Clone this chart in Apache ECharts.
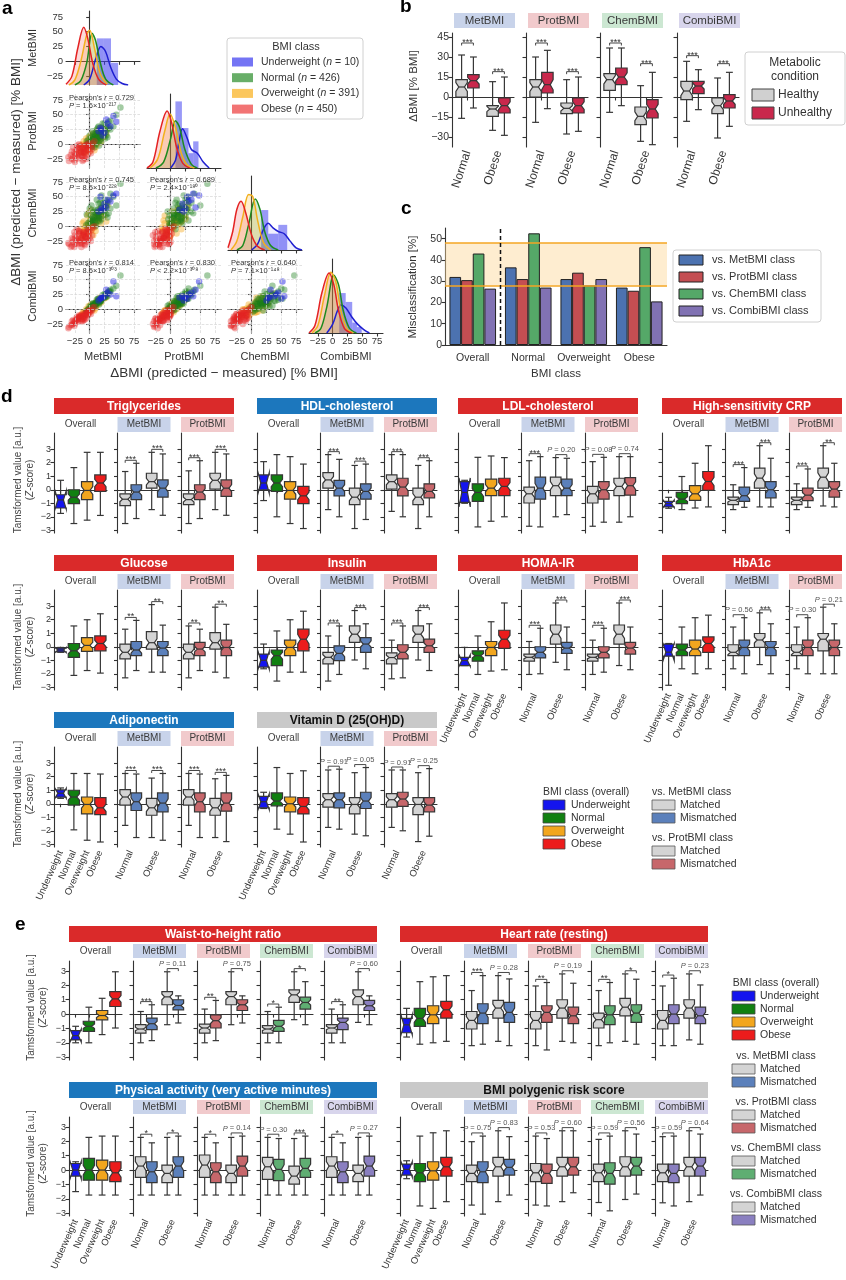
<!DOCTYPE html>
<html><head><meta charset="utf-8">
<script src="https://cdn.jsdelivr.net/npm/echarts@6/dist/echarts.min.js"></script>
<style>html,body{margin:0;padding:0;background:#fff}#c{width:846px;height:1280px}</style>
</head><body><div id="c"></div><script>
// ================= DATA =================
const METHODS = ['MetBMI','ProtBMI','ChemBMI','CombiBMI'];
const BMI_CLASSES = ['Underweight','Normal','Overweight','Obese'];
const PAIR_CATS = ['Normal','Obese'];
const CLASS_N = [10, 426, 391, 450];
const A_TICKS = [-25,0,25,50,75];
const Z_TICKS = [-3,-2,-1,0,1,2,3];

// Panel a: individuals [MetBMI, ProtBMI, ChemBMI, CombiBMI] (ΔBMI %)
const SCAT_UNDER = [[40,48,52,47],[45,38,55,22],[20,25,30,20],[30,35,45,28],[15,22,25,15],[25,20,38,22],[35,30,42,25],[18,28,50,18],[28,42,32,33],[22,15,28,20]];
const SCAT_NORMAL = [[12,12,18,10],[5,8,10,5],[18,15,25,14],[25,22,30,20],[8,3,15,7],[15,20,22,14],[0,2,8,0],[20,18,12,16],[10,14,28,11],[28,30,35,25],[3,-2,5,2],[14,10,20,12],[22,25,18,19],[6,12,24,8],[16,6,14,11],[30,25,40,27],[9,16,10,9],[-3,2,5,-2],[19,22,32,17],[11,5,22,10],[24,15,28,21],[7,9,2,6],[13,18,15,12],[33,28,45,30],[17,12,8,13],[2,6,18,4],[21,28,24,20],[27,20,35,25],[4,-4,12,1],[15,15,38,15],[52,62,72,57],[35,40,55,33],[-6,-2,2,-4],[10,20,5,10],
 [20,5,30,14],[5,22,15,10],[28,15,20,22],[0,15,30,5],[15,30,10,18],[35,25,30,30],[8,-5,25,6],[22,35,40,24],[-2,8,-5,0],[12,25,45,16],[30,12,15,22],[18,8,40,14],[3,12,35,6],[25,35,25,26],[10,0,0,5],[40,30,50,35],[14,28,28,18],[26,10,45,20],[6,18,8,10],[20,22,52,18],[45,50,35,40],[-5,5,20,-2],[32,38,22,30],[16,-2,18,8]];
const SCAT_OVER = [[0,2,-5,0],[5,6,8,4],[-8,-5,-10,-6],[10,8,12,9],[-3,0,2,-2],[15,12,10,12],[2,-4,-8,-1],[-12,-8,-15,-10],[7,10,5,7],[20,15,22,17],[-5,3,0,-3],[3,1,15,5],[12,18,8,12],[-15,-12,-5,-11],[8,4,-2,5],[-2,-8,-12,-6],[25,22,18,22],[1,7,5,3],[-7,-2,-18,-8],[18,10,25,15],[4,14,3,6],[-10,-14,-8,-10],[14,5,12,9],[6,-1,2,3],[30,28,35,27],[-4,5,-3,-1],[9,12,20,10],[-1,-3,6,0],[22,25,15,20],[11,0,4,6],
 [-6,10,-12,0],[8,-10,5,-2],[16,2,25,10],[-10,5,8,-5],[4,18,-5,8],[20,5,5,12],[-14,-2,-20,-10],[0,-12,10,-4],[12,22,18,14],[-2,12,22,5],[24,12,30,18],[-8,-15,-2,-8],[6,0,-15,0],[15,25,12,16],[-12,0,5,-6],[10,-5,-8,2],[28,18,8,20],[-4,-10,18,-2],[2,15,28,8],[18,28,30,20]];
const SCAT_OBESE = [[-20,-18,-25,-17],[-15,-12,-20,-13],[-10,-8,-14,-9],[-5,-3,-10,-5],[-25,-20,-30,-22],[-30,-25,-33,-26],[-8,-12,-18,-10],[-12,-5,-15,-8],[-18,-15,-12,-14],[-3,-6,-8,-4],[0,-2,-5,-1],[5,2,-2,3],[-22,-12,-28,-18],[-14,-18,-22,-16],[-6,-10,-20,-9],[-28,-22,-26,-24],[-16,-8,-10,-11],[-9,-15,-25,-14],[-2,2,-12,-2],[-11,-11,-16,-12],[-20,-24,-22,-21],[-35,-28,-30,-30],[3,-5,-6,-1],[-7,-1,-17,-6],[-13,-20,-30,-17],[-24,-16,-20,-19],[-4,-9,-4,-5],[8,5,0,4],[-17,-6,-23,-12],[-10,-14,-9,-10],[-26,-27,-35,-28],[-1,-4,-14,-5],
 [-20,-5,-30,-15],[-10,-22,-12,-18],[-30,-12,-20,-20],[2,-15,-25,-8],[-18,0,-8,-10],[-25,-30,-15,-25],[-8,-20,-32,-17],[-15,-2,-28,-12],[-32,-18,-35,-27],[-6,-25,-18,-15],[-22,-8,-5,-14],[0,-12,-20,-6],[-12,-28,-25,-20],[-28,-5,-22,-18],[-4,0,-26,-8],[-19,-22,-8,-16],[-14,-14,-35,-20],[4,-8,-15,-2],[-26,-14,-10,-20],[-9,-3,-30,-12],[-36,-22,-28,-32],[-11,-26,-10,-16],[-3,-17,-22,-10],[-21,-2,-18,-13]];
// Pearson stats: [row, col, r, relation, mantissa, exponent]
const A_STATS = [[1,0,'0.729','=','1.6','217'],[2,0,'0.745','=','8.5','228'],[2,1,'0.689','=','2.4','180'],[3,0,'0.814','=','8.5','303'],[3,1,'0.830','<','2.2','308'],[3,2,'0.640','=','7.1','148']];
// KDE curves per diagonal [x, relative density]; order Under, Normal, Over, Obese
const KDE_MET = [
 [[-10,0],[0,0.08],[10,0.35],[19,0.52],[27,0.45],[35,0.25],[45,0.08],[55,0.02],[65,0]],
 [[-25,0],[-15,0.06],[-5,0.3],[4,0.7],[10,0.6],[18,0.3],[27,0.08],[40,0]],
 [[-35,0],[-25,0.07],[-15,0.32],[-5,0.68],[0,0.74],[8,0.5],[18,0.15],[30,0.01]],
 [[-40,0.01],[-30,0.12],[-20,0.5],[-10,0.78],[-3,0.62],[5,0.3],[15,0.08],[28,0]]];
const KDE_PROT = [
 [[0,0],[8,0.1],[14,0.35],[20,0.53],[28,0.4],[35,0.25],[45,0.2],[55,0.08],[65,0]],
 [[-25,0],[-12,0.08],[0,0.4],[8,0.64],[15,0.55],[24,0.25],[35,0.05],[45,0]],
 [[-35,0],[-22,0.12],[-10,0.5],[-1,0.73],[8,0.55],[18,0.2],[28,0.04],[40,0]],
 [[-40,0],[-30,0.08],[-18,0.5],[-6,0.77],[2,0.6],[10,0.28],[20,0.07],[32,0]]];
const KDE_CHEM = [
 [[0,0],[10,0.08],[20,0.28],[28,0.36],[36,0.3],[45,0.25],[55,0.22],[65,0.12],[75,0.03],[85,0]],
 [[-25,0],[-15,0.06],[-5,0.35],[6,0.69],[14,0.55],[22,0.25],[32,0.06],[45,0]],
 [[-35,0],[-25,0.12],[-15,0.45],[-5,0.75],[2,0.72],[10,0.4],[20,0.1],[32,0]],
 [[-40,0.03],[-32,0.25],[-25,0.55],[-18,0.66],[-10,0.5],[0,0.2],[10,0.05],[22,0]]];
const KDE_COMBI = [
 [[-10,0],[0,0.12],[8,0.3],[14,0.38],[22,0.34],[32,0.22],[42,0.12],[52,0.05],[62,0]],
 [[-30,0],[-20,0.06],[-10,0.35],[2,0.78],[10,0.65],[18,0.3],[28,0.07],[40,0]],
 [[-35,0],[-25,0.1],[-14,0.5],[-3,0.82],[5,0.7],[14,0.3],[24,0.06],[35,0]],
 [[-40,0],[-30,0.1],[-18,0.55],[-6,0.81],[2,0.65],[10,0.3],[20,0.06],[32,0]]];
// Underweight histogram bins [x0, x1, relative height]
const HIST_MET = [[12,24,0.63],[24,36,0.63],[36,48,0.3]];
const HIST_PROT = [[8,19,0.9],[19,30,0.54],[30,38,0.2],[38,47,0.36]];
const HIST_CHEM = [[16,28,0.54],[28,45,0.22],[45,60,0.34]];
const HIST_COMBI = [[11,22,0.54],[22,33,0.42],[33,41,0.14],[41,49,0.08]];

// Panel b: boxes [min,q1,median,q3,max]; order Normal-Healthy, Normal-Unhealthy, Obese-Healthy, Obese-Unhealthy
const B_MET = [[-16,0,7.5,13,31.5],[-8.25,6.75,12.25,16.75,30],[-25,-14.5,-9,-6.5,11.5],[-28.75,-12,-6.5,-0.75,15]];
const B_PROT = [[-19,0,7.5,13,30],[-8.75,3,9.25,18.5,35],[-27.75,-12.5,-8.5,-4.5,13],[-25.75,-12,-6.5,-0.75,15]];
const B_CHEM = [[-11.5,5,13,17.5,36.75],[-6.5,9.25,15,21.75,36.75],[-33.25,-20.75,-14.5,-7.5,8.5],[-35.75,-15.75,-9,-2,18.5]];
const B_COMBI = [[-18.25,-2,4.5,11.75,26.75],[-9.5,2.5,8.25,11.75,20.5],[-30.75,-12.5,-6.5,-0.75,14.25],[-22,-8.25,-3,1.75,18.5]];
const B_SIG = ['***','***'];
const B_SIG_Y = [[40.5,19],[40.5,19],[40.5,25],[31,25]];

// Panel c
const C_CATS = ['Overall','Normal','Overweight','Obese'];
const C_MET = [32, 36.5, 31, 27];
const C_PROT = [30.5, 31, 34, 25.5];
const C_CHEM = [43, 52.5, 28, 46];
const C_COMBI = [26.5, 27, 31, 20.5];
const C_BAND = [28, 48];

// Panel d: overall boxes (Under, Normal, Over, Obese); comparison boxes (Normal-Matched, Normal-Mismatched, Obese-Matched, Obese-Mismatched)
const TRIG_OV = [[-1.75,-1.35,-0.75,-0.37,0.7],[-2.5,-1.03,-0.55,0,1.64],[-2.25,-0.73,-0.05,0.6,2.77],[-1.9,-0.12,0.5,1.1,2.77]];
const TRIG_MET = [[-2.5,-1.18,-0.7,-0.3,1.35],[-2.13,-0.73,-0.17,0.37,1.96],[-1.47,0.12,0.6,1.22,2.77],[-1.89,-0.54,0.12,0.73,2.65]];
const TRIG_PROT = [[-2.5,-1.1,-0.73,-0.3,1.4],[-2.13,-0.73,-0.17,0.37,2.15],[-1.47,0.05,0.7,1.22,2.77],[-1.89,-0.49,0.12,0.73,2.65]];
const TRIG_SIG = [['***','***'],['***','***']];
const HDL_OV = [[-0.8,0,0.5,1.1,2.08],[-2.0,-0.12,0.5,1.1,2.6],[-2.5,-0.7,-0.05,0.6,2.45],[-2.87,-1.03,-0.45,0.25,1.9]];
const HDL_MET = [[-1.47,0.12,0.73,1.27,2.6],[-2.0,-0.45,0.12,0.7,2.25],[-2.87,-1.1,-0.55,0.12,1.8],[-2.2,-0.7,-0.12,0.44,1.9]];
const HDL_PROT = [[-1.6,0.05,0.6,1.1,2.6],[-2.0,-0.45,0.2,0.85,2.6],[-2.87,-1.1,-0.55,0.12,1.8],[-2.0,-0.6,-0.12,0.44,2.15]];
const HDL_SIG = [['***','***'],['***','***']];
const LDL_OV = [[-1.0,-0.93,-0.2,0.6,0.7],[-2.75,-0.86,-0.2,0.44,2.4],[-2.33,-0.44,0.12,0.78,2.5],[-2.0,-0.44,0.25,0.85,2.38]];
const LDL_MET = [[-2.7,-0.98,-0.3,0.2,2.15],[-2.75,-0.7,0.12,0.93,2.45],[-2.0,-0.44,0.3,0.93,2.38],[-1.84,-0.44,0.12,0.78,2.33]];
const LDL_PROT = [[-2.7,-0.98,-0.3,0.25,2.08],[-2.4,-0.7,0,0.6,2.4],[-2.4,-0.44,0.25,0.85,2.45],[-2.0,-0.4,0.3,0.9,2.45]];
const LDL_SIG = [['***','P = 0.20'],['P = 0.08','P = 0.74']];
const CRP_OV = [[-1.37,-1.27,-1.03,-0.86,-0.56],[-1.47,-1.03,-0.69,-0.2,0.98],[-1.35,-0.78,-0.3,0.3,1.96],[-1.27,-0.05,0.61,1.35,3.26]];
const CRP_MET = [[-1.47,-1.1,-0.78,-0.54,0.37],[-1.3,-0.86,-0.44,0.2,1.64],[-1.27,0.12,0.86,1.6,3.26],[-1.27,-0.6,0,0.6,2.33]];
const CRP_PROT = [[-1.47,-1.1,-0.78,-0.54,0.44],[-1.3,-0.8,-0.4,0.12,1.54],[-1.2,0.12,0.93,1.6,3.26],[-1.27,-0.54,0.05,0.6,1.96]];
const CRP_SIG = [['***','***'],['***','**']];
const GLU_OV = [[-0.41,-0.38,-0.24,-0.1,-0.05],[-2.12,-0.78,-0.3,0.24,1.54],[-1.76,-0.34,0.1,0.68,2.0],[-1.95,-0.3,0.24,0.8,2.44]];
const GLU_MET = [[-2.3,-0.9,-0.41,0.2,1.3],[-1.76,-0.66,-0.24,0.39,1.95],[-1.88,-0.17,0.3,1.12,3.12],[-1.88,-0.66,-0.1,0.39,1.6]];
const GLU_PROT = [[-2.3,-0.9,-0.41,0.2,1.54],[-1.76,-0.66,-0.17,0.32,1.3],[-1.88,-0.17,0.3,1.05,2.93],[-2.3,-0.66,-0.05,0.49,1.66]];
const GLU_SIG = [['**','**'],['**','**']];
const INS_OV = [[-1.63,-1.5,-1.0,-0.54,0.2],[-2.54,-1.39,-0.66,-0.24,1.17],[-1.88,-0.66,-0.05,0.49,2.0],[-1.88,-0.3,0.56,1.3,2.63]];
const INS_MET = [[-2.54,-1.27,-0.78,-0.41,0.8],[-2.05,-1.02,-0.49,0.07,1.54],[-0.98,0.32,0.93,1.54,2.68],[-1.63,-0.41,0.2,0.68,1.7]];
const INS_PROT = [[-2.37,-1.27,-0.8,-0.45,0.49],[-2.3,-0.9,-0.41,0.15,1.54],[-0.98,0.32,0.93,1.54,2.68],[-1.76,-0.41,0.07,0.56,1.7]];
const INS_SIG = [['***','***'],['***','***']];
const HOMA_OV = [[-1.39,-1.39,-1.02,-0.78,-0.05],[-2.05,-1.07,-0.66,-0.3,0.8],[-1.8,-0.66,-0.05,0.39,1.85],[-1.7,-0.12,0.56,1.22,3.24]];
const HOMA_MET = [[-2.05,-1.07,-0.78,-0.54,0.39],[-2.0,-0.83,-0.41,0,1.37],[-1.15,0.2,0.93,1.61,3.24],[-1.7,-0.49,-0.1,0.32,1.46]];
const HOMA_PROT = [[-2.05,-1.07,-0.78,-0.54,0.49],[-1.88,-0.83,-0.41,0,1.37],[-1.39,0.2,0.93,1.61,3.24],[-1.7,-0.54,-0.1,0.32,1.46]];
const HOMA_SIG = [['***','***'],['***','***']];
const HBA_OV = [[-2.85,-0.7,-0.4,0.2,0.24],[-1.63,-0.66,-0.24,0.2,1.46],[-2.0,-0.66,-0.17,0.49,2.15],[-1.63,-0.41,0.24,0.73,2.34]];
const HBA_MET = [[-1.63,-0.66,-0.41,0.15,1.46],[-2.0,-0.66,-0.05,0.49,2.15],[-1.32,-0.05,0.5,0.98,2.51],[-2.0,-0.66,-0.05,0.39,1.7]];
const HBA_PROT = [[-1.63,-0.66,-0.41,0.15,1.46],[-2.0,-0.66,-0.05,0.49,2.15],[-2.0,-0.3,0.56,0.98,2.93],[-2.0,-0.66,-0.05,0.49,1.7]];
const HBA_SIG = [['P = 0.56','***'],['P = 0.30','P = 0.21']];
const ADIPO_OV = [[0.4,0.49,0.78,1.02,1.17],[-1.93,-0.1,0.5,1.0,2.24],[-2.7,-0.75,-0.05,0.5,2.24],[-2.83,-0.8,-0.3,0.45,2.2]];
const ADIPO_MET = [[-1.6,-0.1,0.5,1.05,2.24],[-2.5,-0.5,0.15,0.8,2.2],[-2.5,-0.85,-0.3,0.4,1.9],[-2.7,-0.6,0.05,0.8,2.24]];
const ADIPO_PROT = [[-1.6,-0.1,0.5,1.05,2.24],[-2.5,-0.6,0.15,0.8,2.2],[-2.5,-0.85,-0.3,0.4,1.85],[-2.8,-0.55,0.05,0.8,2.1]];
const ADIPO_SIG = [['***','***'],['***','***']];
const VITD_OV = [[-0.35,-0.3,0.15,0.55,0.85],[-1.88,-0.15,0.2,0.8,2.68],[-2.25,-0.6,0,0.5,2.24],[-2.83,-0.75,-0.2,0.45,2.44]];
const VITD_MET = [[-1.75,-0.25,0.3,0.75,2.5],[-1.88,-0.3,0.3,0.8,2.56],[-2.25,-0.75,-0.05,0.45,2.3],[-2.37,-0.35,0.2,0.85,2.68]];
const VITD_PROT = [[-1.75,-0.25,0.3,0.75,2.5],[-2.0,-0.2,0.35,0.85,2.5],[-2.8,-0.8,-0.05,0.45,2.3],[-2.4,-0.6,-0.1,0.45,2.6]];
const VITD_SIG = [['P = 0.91','P = 0.05'],['P = 0.91','P = 0.25']];

// Panel e
const WHTR_OV = [[-2.0,-1.8,-1.5,-1.15,-0.85],[-2.0,-1.2,-0.85,-0.5,0.48],[-1.43,-0.4,-0.1,0.25,1.1],[-0.97,0.53,1.06,1.57,2.95]];
const WHTR_MET = [[-2.0,-1.32,-1.04,-0.74,0.18],[-1.85,-1.08,-0.67,-0.28,0.65],[-0.74,0.65,1.2,1.57,2.95],[-0.62,0.3,0.6,1.0,1.27]];
const WHTR_PROT = [[-2.0,-1.32,-0.97,-0.7,0.35],[-1.85,-0.97,-0.46,-0.05,0.95],[-0.74,0.65,1.22,1.57,2.95],[-0.62,0.25,0.65,1.0,1.27]];
const WHTR_CHEM = [[-2.0,-1.32,-1.04,-0.8,0.18],[-2.0,-1.2,-0.85,-0.44,0.48],[-0.39,0.81,1.34,1.69,2.95],[-0.74,0.35,0.81,1.18,2.26]];
const WHTR_COMBI = [[-2.0,-1.32,-0.97,-0.74,0.35],[-2.0,-1.08,-0.58,-0.28,0.65],[-0.58,0.65,1.22,1.69,2.95],[-0.74,0.25,0.58,0.95,1.27]];
const WHTR_SIG = [['***','P = 0.11'],['**','P = 0.75'],['*','*'],['**','P = 0.60']];
const HR_OV = [[-1.6,-1.3,-0.75,-0.3,0.4],[-2.1,-0.85,-0.3,0.4,2.26],[-2.0,-0.67,-0.05,0.58,2.6],[-1.9,-0.28,0.3,0.88,2.68]];
const HR_MET = [[-2.2,-1.04,-0.44,0.18,1.64],[-2.1,-0.67,0.07,0.72,2.68],[-1.9,-0.28,0.42,0.95,2.68],[-2.2,-0.58,0.12,0.81,2.45]];
const HR_PROT = [[-2.2,-1.04,-0.44,0.18,1.96],[-2.5,-0.58,0.12,0.58,2.2],[-1.9,-0.28,0.42,1.0,2.8],[-2.0,-0.67,-0.12,0.48,2.15]];
const HR_CHEM = [[-2.2,-0.97,-0.39,0.07,1.64],[-2.0,-0.74,-0.05,0.58,2.2],[-1.9,-0.12,0.48,1.1,2.8],[-2.1,-0.58,0.07,0.65,2.43]];
const HR_COMBI = [[-2.2,-1.04,-0.44,0.25,1.96],[-2.2,-0.67,0,0.65,2.5],[-1.8,-0.28,0.42,1.0,2.8],[-2.1,-0.67,-0.12,0.48,2.03]];
const HR_SIG = [['***','P = 0.28'],['**','P = 0.19'],['**','*'],['*','P = 0.23']];
const PA_OV = [[-1.5,-0.42,0,0.46,0.58],[-1.74,-0.7,0,0.81,2.28],[-1.74,-0.7,0,0.7,2.37],[-1.74,-0.81,-0.19,0.58,2.37]];
const PA_MET = [[-1.74,-0.51,0.28,0.93,2.28],[-1.74,-0.88,-0.12,0.58,1.9],[-1.74,-0.88,-0.23,0.35,2.28],[-1.74,-0.51,0.28,0.93,2.37]];
const PA_PROT = [[-1.74,-0.51,0.35,1.05,2.28],[-1.74,-0.88,-0.12,0.51,1.9],[-1.74,-0.88,-0.23,0.35,2.28],[-1.74,-0.42,0.28,0.98,2.37]];
const PA_CHEM = [[-1.74,-0.65,0.23,0.88,2.28],[-1.74,-0.74,0.05,0.74,2.2],[-1.74,-0.98,-0.42,0.28,2.2],[-1.74,-0.51,0.12,0.81,2.37]];
const PA_COMBI = [[-1.74,-0.51,0.28,0.93,2.28],[-1.74,-0.88,-0.12,0.58,1.9],[-1.74,-0.81,-0.23,0.35,2.28],[-1.74,-0.42,0.28,0.98,2.37]];
const PA_SIG = [['*','*'],['*','P = 0.14'],['P = 0.30','***'],['*','P = 0.27']];
const PRS_OV = [[-0.6,-0.35,0.05,0.42,0.65],[-2.5,-0.81,-0.19,0.46,2.37],[-2.67,-0.7,-0.05,0.58,2.6],[-2.2,-0.42,0.23,0.88,2.74]];
const PRS_MET = [[-2.44,-0.81,-0.23,0.35,1.98],[-3.07,-0.88,-0.12,0.58,2.37],[-2.2,-0.42,0.23,0.88,2.74],[-1.74,-0.35,0.19,0.74,2.33]];
const PRS_PROT = [[-2.44,-0.81,-0.19,0.46,2.37],[-2.5,-0.93,-0.23,0.42,2.2],[-2.2,-0.42,0.23,0.88,2.74],[-1.58,-0.35,0.23,0.88,2.74]];
const PRS_CHEM = [[-2.26,-0.81,-0.19,0.42,2.14],[-2.84,-0.98,-0.23,0.51,2.37],[-2.05,-0.42,0.23,0.93,2.74],[-1.67,-0.35,0.28,0.88,2.51]];
const PRS_COMBI = [[-2.28,-0.81,-0.19,0.42,2.33],[-2.5,-0.88,-0.23,0.42,2.37],[-2.2,-0.42,0.23,0.88,2.74],[-1.74,-0.42,0.28,0.88,2.51]];
const PRS_SIG = [['P = 0.75','P = 0.83'],['P = 0.53','P = 0.60'],['P = 0.59','P = 0.56'],['P = 0.59','P = 0.64']];

// ================= STYLE =================
const FONT = '"Liberation Sans", Arial, Helvetica, sans-serif';
const TXT = '#333';
const AX = '#333';
const CLASS_COLORS = ['#1414ee','#118011','#f2a61e','#ec1c1c'];
const MATCH_COLOR = '#d4d4d4';
const MISMATCH_COLORS = {MetBMI:'#5b80bb', ProtBMI:'#c7676b', ChemBMI:'#5fae72', CombiBMI:'#8a7fc0'};
const HEADER_BG = {MetBMI:'#c8d3ea', ProtBMI:'#f1cacc', ChemBMI:'#cce7d2', CombiBMI:'#d8d5ec'};
const BAR_COLORS = {red:'#da2a2a', blue:'#1c77bd', gray:'#c9c9c9'};
const C_COLORS = ['#4c72b0','#c44e52','#55a868','#8172b3'];
const NOTCH = 0.22, NOTCH_UNDER = 0.7;

const grids=[], xAxes=[], yAxes=[], series=[], graphics=[];
const MINUS = v => String(v).replace('-', '\u2212');
function addGrid(l,t,w,h){ grids.push({left:l, top:t, width:w, height:h}); return grids.length-1; }
function T(x,y,text,o){ o=o||{}; const st = Object.assign({text, fill:TXT, fontSize:11, fontFamily:FONT, align:'left', verticalAlign:'middle'}, o.style||{});
  st.textAlign = st.align; st.textVerticalAlign = st.verticalAlign;
  graphics.push({type:'text', x, y, rotation:o.rot||0, silent:true, z:100, style:st}); }
function R(x,y,w,h,fill,stroke,lw,r){ graphics.push({type:'rect', silent:true, z:90, shape:{x,y,width:w,height:h,r:r||0}, style:{fill, stroke:stroke||null, lineWidth:lw||0}}); }
function valAxis(gi,min,max,ticks,showLab,fs,extra){
  return Object.assign({type:'value', gridIndex:gi, min, max,
    axisLine:{show:true, lineStyle:{color:AX, width:1.1}},
    axisTick:{show:true, customValues:ticks, length:3.5, lineStyle:{color:AX, width:1.1}},
    axisLabel:{show:showLab, customValues:ticks, formatter:MINUS, color:TXT, fontSize:fs, margin:3, fontFamily:FONT},
    splitLine:{show:false}}, extra||{});
}
function catAxis(gi,data,showLab,fs,rot,tick){
  return {type:'category', gridIndex:gi, data, boundaryGap:true,
    axisLine:{show:true, lineStyle:{color:AX, width:1.1}},
    axisTick:{show:tick!==false, alignWithLabel:true, length:3.5, lineStyle:{color:AX, width:1.1}},
    axisLabel:{show:showLab, interval:0, rotate:rot, fontSize:fs, color:TXT, margin:4, fontFamily:FONT}};
}
function boxSeries(xi,yi,data,pos,wf,colorFn,notchFn){
  return {type:'custom', xAxisIndex:xi, yAxisIndex:yi, data, silent:true, z:3, encode:{x:0, y:[1,2,3,4,5]},
    renderItem:(params, api)=>{
      const c = api.value(0);
      const v = [api.value(1),api.value(2),api.value(3),api.value(4),api.value(5)];
      const w = api.size([1,0])[0];
      const cx = api.coord([c, v[2]])[0] + pos*w;
      const bw = wf*w;
      const Y = val => api.coord([c,val])[1];
      const L = cx-bw/2, Rr = cx+bw/2, ind = bw*0.25;
      const n = notchFn(params.dataIndex)*(v[3]-v[1]);
      const pts = [[L,Y(v[1])],[Rr,Y(v[1])],[Rr,Y(v[2]-n)],[Rr-ind,Y(v[2])],[Rr,Y(v[2]+n)],[Rr,Y(v[3])],[L,Y(v[3])],[L,Y(v[2]+n)],[L+ind,Y(v[2])],[L,Y(v[2]-n)]];
      const cap = bw*0.3;
      const ls = {stroke:'#363636', lineWidth:1.2};
      return {type:'group', children:[
        {type:'line', shape:{x1:cx,y1:Y(v[3]),x2:cx,y2:Y(v[4])}, style:ls},
        {type:'line', shape:{x1:cx,y1:Y(v[1]),x2:cx,y2:Y(v[0])}, style:ls},
        {type:'line', shape:{x1:cx-cap,y1:Y(v[4]),x2:cx+cap,y2:Y(v[4])}, style:ls},
        {type:'line', shape:{x1:cx-cap,y1:Y(v[0]),x2:cx+cap,y2:Y(v[0])}, style:ls},
        {type:'polygon', shape:{points:pts}, style:{fill:colorFn(params.dataIndex), stroke:'#363636', lineWidth:1.2}},
        {type:'line', shape:{x1:L+ind,y1:Y(v[2]),x2:Rr-ind,y2:Y(v[2])}, style:ls}
      ]};
    }};
}
function sigSeries(xi,yi,data,labels,pos){
  return {type:'custom', xAxisIndex:xi, yAxisIndex:yi, data, silent:true, z:5, encode:{x:0, y:1},
    renderItem:(params, api)=>{
      const c = api.value(0), yv = api.value(1);
      const w = api.size([1,0])[0];
      const p = api.coord([c,yv]);
      const x1 = p[0]-pos*w, x2 = p[0]+pos*w, y = p[1];
      const lab = labels[params.dataIndex];
      const isP = lab.charAt(0)==='P';
      const st = isP ? {text:'{i|P}'+lab.slice(1), rich:{i:{fontStyle:'italic', fontSize:7.5, fill:'#555', fontFamily:FONT}}, fontSize:7.5, fill:'#555', fontFamily:FONT}
                     : {text:lab, fontSize:9, fill:'#333', fontFamily:FONT};
      st.align='center'; st.verticalAlign='bottom'; st.textAlign='center'; st.textVerticalAlign='bottom';
      return {type:'group', children:[
        {type:'polyline', shape:{points:[[x1,y+2.5],[x1,y],[x2,y],[x2,y+2.5]]}, style:{stroke:'#333', lineWidth:0.9, fill:null}},
        {type:'text', x:p[0], y: isP ? y-0.5 : y+4, style:st}
      ]};
    }};
}

// ================= PANEL A =================
const A_LEFT=[66,147,228,309], A_TOP=[11,94,176,259], A_SIZE=74;
const SCAT = [SCAT_UNDER, SCAT_NORMAL, SCAT_OVER, SCAT_OBESE];
const KDES = [KDE_MET, KDE_PROT, KDE_CHEM, KDE_COMBI];
const HISTS = [HIST_MET, HIST_PROT, HIST_CHEM, HIST_COMBI];
const A_SCAT_COL = ['rgba(30,30,225,0.6)','rgba(25,125,25,0.5)','rgba(245,170,35,0.55)','rgba(228,35,35,0.45)'];
const A_LINE_COL = ['#1f1fd0','#1e8a1e','#f2b01e','#e42222'];
const A_FILL_COL = ['rgba(60,60,240,0.12)','rgba(40,150,40,0.28)','rgba(250,185,45,0.32)','rgba(240,85,85,0.32)'];
const SUP = {'0':'⁰','1':'¹','2':'²','3':'³','4':'⁴','5':'⁵','6':'⁶','7':'⁷','8':'⁸','9':'⁹'};
for (let r=0;r<4;r++){
  for (let c=0;c<=r;c++){
    const gi = addGrid(A_LEFT[c], A_TOP[r], A_SIZE, A_SIZE);
    const xi = xAxes.length;
    xAxes.push(valAxis(gi,-40,85,A_TICKS,r===3,9.5));
    if (c<r){
      const yi = yAxes.length;
      yAxes.push(valAxis(gi,-40,85,A_TICKS,c===0,9.5));
      series.push({type:'scatter', xAxisIndex:xi, yAxisIndex:yi, data:[], z:1, silent:true,
        markLine:{silent:true, symbol:'none', animation:false, label:{show:false},
          lineStyle:{color:'#d6d6d6', type:'dashed', width:0.7},
          data: A_TICKS.map(v=>({xAxis:v})).concat(A_TICKS.map(v=>({yAxis:v})))}});
      [2,1,3,0].forEach(k=>{
        series.push({type:'scatter', xAxisIndex:xi, yAxisIndex:yi, silent:true, z:2, symbolSize:6.5,
          data: SCAT[k].map(p=>[p[c],p[r]]), itemStyle:{color:A_SCAT_COL[k]}});
      });
    } else {
      if (c===0){ yAxes.push(valAxis(gi,-40,85,A_TICKS,true,9.5)); }
      const yd = yAxes.length;
      yAxes.push({type:'value', gridIndex:gi, min:0, max:1, position:'left', show: c>0,
        axisLine:{show:true, lineStyle:{color:AX, width:1.1}}, axisTick:{show:false}, axisLabel:{show:false}, splitLine:{show:false}});
      series.push({type:'custom', xAxisIndex:xi, yAxisIndex:yd, data:HISTS[c], silent:true, z:1, encode:{x:[0,1], y:2},
        renderItem:(p,api)=>{ const a=api.coord([api.value(0),0]); const b=api.coord([api.value(1),api.value(2)]);
          return {type:'rect', shape:{x:a[0], y:b[1], width:b[0]-a[0], height:a[1]-b[1]}, style:{fill:'rgba(70,70,240,0.55)'}}; }});
      [0,1,2,3].forEach(k=>{
        series.push({type:'line', xAxisIndex:xi, yAxisIndex:yd, data:KDES[c][k], smooth:0.35, symbol:'none', silent:true, z:2,
          lineStyle:{color:A_LINE_COL[k], width:1.5}, areaStyle:{color:A_FILL_COL[k]}});
      });
    }
  }
  T(33, A_TOP[r]+37, METHODS[r], {rot:Math.PI/2, style:{fontSize:11, align:'center'}});
  T(A_LEFT[r]+37, 357, METHODS[r], {style:{fontSize:11, align:'center'}});
}
A_STATS.forEach(s=>{
  const x = A_LEFT[s[1]]+3, y = A_TOP[s[0]];
  T(x, y+4, "Pearson's {i|r} = "+s[2], {style:{fontSize:7.5, fill:'#333', rich:{i:{fontStyle:'italic', fontSize:7.5, fontFamily:FONT, fill:'#333'}}}});
  const ex = ('-'+s[5]).split('').map(ch=> ch==='-'?'⁻':SUP[ch]).join('');
  T(x, y+12, "{i|P} "+s[3]+" "+s[4]+"×10"+ex, {style:{fontSize:7.5, fill:'#333', rich:{i:{fontStyle:'italic', fontSize:7.5, fontFamily:FONT, fill:'#333'}}}});
});
T(16, 172, 'ΔBMI (predicted − measured) [% BMI]', {rot:Math.PI/2, style:{fontSize:13.5, align:'center'}});
T(224, 373, 'ΔBMI (predicted − measured) [% BMI]', {style:{fontSize:13.5, align:'center'}});
// legend a
R(227,38,136,81,'#fff','#d0d0d0',1,3);
T(296,47,'BMI class',{style:{fontSize:11, align:'center'}});
const A_LEG_COL = ['rgba(70,70,240,0.75)','rgba(40,140,40,0.7)','rgba(250,180,40,0.75)','rgba(238,70,70,0.75)'];
BMI_CLASSES.forEach((cl,i)=>{
  const y = 62+15.7*i;
  R(232,y-4.5,21,9,A_LEG_COL[i]);
  T(261,y,cl+' ({i|n} = '+CLASS_N[i]+')',{style:{fontSize:10.5, rich:{i:{fontStyle:'italic', fontSize:10.5, fontFamily:FONT, fill:TXT}}}});
});

// ================= PANEL B =================
const B_LEFT=[452,526,600,677], B_TOP=33, B_W=62, B_H=114;
const B_DATA=[B_MET,B_PROT,B_CHEM,B_COMBI];
const B_TICKS=[-30,-15,0,15,30,45];
B_DATA.forEach((bd,m)=>{
  const gi = addGrid(B_LEFT[m], B_TOP, B_W, B_H);
  const xi = xAxes.length; xAxes.push(catAxis(gi, PAIR_CATS, true, 12, 72));
  const yi = yAxes.length; yAxes.push(valAxis(gi,-37.5,48,B_TICKS,m===0,10.5));
  series.push(boxSeries(xi,yi,[[0].concat(bd[0]),[1].concat(bd[2])],-0.19,0.37,()=>'#d0d0d0',()=>0.25));
  series.push(boxSeries(xi,yi,[[0].concat(bd[1]),[1].concat(bd[3])],0.19,0.37,()=>'#c9284c',()=>0.25));
  series.push(sigSeries(xi,yi,[[0,B_SIG_Y[m][0]],[1,B_SIG_Y[m][1]]],B_SIG,0.19));
  R(B_LEFT[m]+2, 13, 61, 15, HEADER_BG[METHODS[m]]);
  T(B_LEFT[m]+32.5, 21, METHODS[m], {style:{fontSize:11.5, align:'center', fill:'#3a3a3a'}});
});
T(414, 86, 'ΔBMI [% BMI]', {rot:Math.PI/2, style:{fontSize:11.5, align:'center'}});
R(745,52,100,73,'#fff','#d0d0d0',1,3);
T(795,63,'Metabolic',{style:{fontSize:12, align:'center'}});
T(795,77,'condition',{style:{fontSize:12, align:'center'}});
R(752,89,22,12,'#d0d0d0','#444',1); T(778,95,'Healthy',{style:{fontSize:12}});
R(752,107,22,12,'#c9284c','#444',1); T(778,113,'Unhealthy',{style:{fontSize:12}});

// ================= PANEL C =================
(function(){
  const gi = addGrid(445,228,222,117);
  const xi = xAxes.length; xAxes.push(catAxis(gi, C_CATS, true, 10.5, 0, false));
  xAxes[xi].axisLabel.margin = 8;
  const yi = yAxes.length; yAxes.push(valAxis(gi,0,55,[0,10,20,30,40,50],true,10.5));
  [C_MET,C_PROT,C_CHEM,C_COMBI].forEach((d,k)=>{
    const s = {type:'bar', xAxisIndex:xi, yAxisIndex:yi, data:d, barGap:'0%', barCategoryGap:'16%', silent:true, z:3,
      itemStyle:{color:C_COLORS[k], borderColor:'#222', borderWidth:1}};
    if (k===0){
      s.markArea = {silent:true, itemStyle:{color:'rgba(253,214,150,0.45)'}, data:[[{yAxis:C_BAND[0]},{yAxis:C_BAND[1]}]]};
      s.markLine = {silent:true, symbol:'none', label:{show:false}, animation:false, lineStyle:{color:'#f5a623', width:1.6, type:'solid'}, data:[{yAxis:C_BAND[0]},{yAxis:C_BAND[1]}]};
    }
    series.push(s);
  });
  series.push({type:'custom', xAxisIndex:xi, yAxisIndex:yi, data:[[0,0]], silent:true, z:6, encode:{x:0,y:1},
    renderItem:(p,api)=>{ const a=api.coord([0,0]), b=api.coord([1,0]), t=api.coord([0,55]);
      const x=(a[0]+b[0])/2; return {type:'line', shape:{x1:x,y1:a[1],x2:x,y2:t[1]}, style:{stroke:'#111', lineWidth:1.5, lineDash:[4,3]}}; }});
})();
T(413, 287, 'Misclassification [%]', {rot:Math.PI/2, style:{fontSize:11.5, align:'center'}});
T(556, 374, 'BMI class', {style:{fontSize:11.5, align:'center'}});
R(673,250,148,72,'#fff','#d0d0d0',1,3);
['vs. MetBMI class','vs. ProtBMI class','vs. ChemBMI class','vs. CombiBMI class'].forEach((t,i)=>{
  const y=260+17*i; R(679,y-5,24,10,C_COLORS[i],'#222',1); T(712,y,t,{style:{fontSize:11}});
});

// ================= PANEL D & E =================
function addBlock(f, bx, barY, methods, subOff, subW, plotH, yMin, yMax, showY, showX, hdrOff, hdrH){
  const total = subOff[subOff.length-1]+subW;
  R(bx, barY, total, 16, BAR_COLORS[f.kind]);
  T(bx+total/2, barY+8.5, f.name, {style:{fontSize:12, fontWeight:'bold', fill: f.kind==='gray'?'#111':'#fff', align:'center'}});
  const plotTop = barY+35;
  ['Overall'].concat(methods).forEach((s,si)=>{
    const sx = bx+subOff[si];
    if (si===0) T(sx+subW/2, barY+hdrOff+hdrH/2, 'Overall', {style:{fontSize:10, align:'center', fill:'#444'}});
    else { R(sx, barY+hdrOff, subW, hdrH, HEADER_BG[s]); T(sx+subW/2, barY+hdrOff+hdrH/2, s, {style:{fontSize:10, align:'center', fill:'#3a3a3a'}}); }
    const gi = addGrid(sx, plotTop, subW, plotH);
    const xi = xAxes.length; xAxes.push(catAxis(gi, si===0?BMI_CLASSES:PAIR_CATS, showX, 9.5, 66));
    const yi = yAxes.length; yAxes.push(valAxis(gi, yMin, yMax, Z_TICKS, showY && si===0, 9));
    if (si===0){
      series.push(boxSeries(xi,yi,f.ov.map((b,i)=>[i].concat(b)),0,0.85,i=>CLASS_COLORS[i],i=>i===0?NOTCH_UNDER:NOTCH));
    } else {
      const cmp = f.cmp[si-1];
      series.push(boxSeries(xi,yi,[[0].concat(cmp[0]),[1].concat(cmp[2])],-0.21,0.4,()=>MATCH_COLOR,()=>NOTCH));
      series.push(boxSeries(xi,yi,[[0].concat(cmp[1]),[1].concat(cmp[3])],0.21,0.4,()=>MISMATCH_COLORS[s],()=>NOTCH));
      const ys = [Math.max(cmp[0][4],cmp[1][4])+0.22, Math.max(cmp[2][4],cmp[3][4])+0.22];
      series.push(sigSeries(xi,yi,[[0,ys[0]],[1,ys[1]]],f.sig[si-1],0.21));
    }
  });
}
const D_FEATS = [
  {name:'Triglycerides', kind:'red', ov:TRIG_OV, cmp:[TRIG_MET,TRIG_PROT], sig:TRIG_SIG, row:0, col:0, xl:false},
  {name:'HDL-cholesterol', kind:'blue', ov:HDL_OV, cmp:[HDL_MET,HDL_PROT], sig:HDL_SIG, row:0, col:1, xl:false},
  {name:'LDL-cholesterol', kind:'red', ov:LDL_OV, cmp:[LDL_MET,LDL_PROT], sig:LDL_SIG, row:0, col:2, xl:false},
  {name:'High-sensitivity CRP', kind:'red', ov:CRP_OV, cmp:[CRP_MET,CRP_PROT], sig:CRP_SIG, row:0, col:3, xl:false},
  {name:'Glucose', kind:'red', ov:GLU_OV, cmp:[GLU_MET,GLU_PROT], sig:GLU_SIG, row:1, col:0, xl:false},
  {name:'Insulin', kind:'red', ov:INS_OV, cmp:[INS_MET,INS_PROT], sig:INS_SIG, row:1, col:1, xl:false},
  {name:'HOMA-IR', kind:'red', ov:HOMA_OV, cmp:[HOMA_MET,HOMA_PROT], sig:HOMA_SIG, row:1, col:2, xl:true},
  {name:'HbA1c', kind:'red', ov:HBA_OV, cmp:[HBA_MET,HBA_PROT], sig:HBA_SIG, row:1, col:3, xl:true},
  {name:'Adiponectin', kind:'blue', ov:ADIPO_OV, cmp:[ADIPO_MET,ADIPO_PROT], sig:ADIPO_SIG, row:2, col:0, xl:true},
  {name:'Vitamin D (25(OH)D)', kind:'gray', ov:VITD_OV, cmp:[VITD_MET,VITD_PROT], sig:VITD_SIG, row:2, col:1, xl:true}
];
const D_BX=[54,257,458,662], D_BAR_Y=[398,555,712];
D_FEATS.forEach(f=> addBlock(f, D_BX[f.col], D_BAR_Y[f.row], ['MetBMI','ProtBMI'], [0,63.5,127], 53, 100, -3.2, 4.2, f.col===0, f.xl, 19, 15));
D_BAR_Y.forEach(by=>{
  const cy = by+35+50-3;
  T(18, cy, 'Tamsformed value [a.u.]', {rot:Math.PI/2, style:{fontSize:10, align:'center', fill:'#444'}});
  T(30, cy, '({i|Z}-score)', {rot:Math.PI/2, style:{fontSize:10, align:'center', fill:'#444', rich:{i:{fontStyle:'italic', fontSize:10, fontFamily:FONT, fill:'#444'}}}});
});
// legend d
T(543,792,'BMI class (overall)',{style:{fontSize:10.5}});
BMI_CLASSES.forEach((cl,i)=>{ const y=805+13*i; R(543,y-5,22,10,CLASS_COLORS[i],'#444',0.8); T(571,y,cl,{style:{fontSize:10.5}}); });
T(652,792,'vs. MetBMI class',{style:{fontSize:10.5}});
R(652,800,23,10,MATCH_COLOR,'#555',0.8); T(680,805,'Matched',{style:{fontSize:10.5}});
R(652,813,23,10,MISMATCH_COLORS.MetBMI,'#555',0.8); T(680,818,'Mismatched',{style:{fontSize:10.5}});
T(652,838,'vs. ProtBMI class',{style:{fontSize:10.5}});
R(652,846,23,10,MATCH_COLOR,'#555',0.8); T(680,851,'Matched',{style:{fontSize:10.5}});
R(652,859,23,10,MISMATCH_COLORS.ProtBMI,'#555',0.8); T(680,864,'Mismatched',{style:{fontSize:10.5}});

const E_FEATS = [
  {name:'Waist-to-height ratio', kind:'red', ov:WHTR_OV, cmp:[WHTR_MET,WHTR_PROT,WHTR_CHEM,WHTR_COMBI], sig:WHTR_SIG, row:0, col:0, xl:false},
  {name:'Heart rate (resting)', kind:'red', ov:HR_OV, cmp:[HR_MET,HR_PROT,HR_CHEM,HR_COMBI], sig:HR_SIG, row:0, col:1, xl:false},
  {name:'Physical activity (very active minutes)', kind:'blue', ov:PA_OV, cmp:[PA_MET,PA_PROT,PA_CHEM,PA_COMBI], sig:PA_SIG, row:1, col:0, xl:true},
  {name:'BMI polygenic risk score', kind:'gray', ov:PRS_OV, cmp:[PRS_MET,PRS_PROT,PRS_CHEM,PRS_COMBI], sig:PRS_SIG, row:1, col:1, xl:true}
];
const E_BX=[69,400], E_BAR_Y=[926,1082];
E_FEATS.forEach(f=> addBlock(f, E_BX[f.col], E_BAR_Y[f.row], METHODS, [0,64,128,191,255], 53, 99, -3.2, 3.7, f.col===0, f.xl, 18, 14));
E_BAR_Y.forEach(by=>{
  const cy = by+35+49.5-3;
  T(31, cy, 'Tamsformed value [a.u.]', {rot:Math.PI/2, style:{fontSize:10, align:'center', fill:'#444'}});
  T(43, cy, '({i|Z}-score)', {rot:Math.PI/2, style:{fontSize:10, align:'center', fill:'#444', rich:{i:{fontStyle:'italic', fontSize:10, fontFamily:FONT, fill:'#444'}}}});
});
// legend e
T(776,983,'BMI class (overall)',{style:{fontSize:10.5, align:'center'}});
BMI_CLASSES.forEach((cl,i)=>{ const y=996+13*i; R(732,y-5,23,10,CLASS_COLORS[i],'#444',0.8); T(760,y,cl,{style:{fontSize:10.5}}); });
METHODS.forEach((m,i)=>{
  const y0 = 1056+46*i;
  T(776,y0,'vs. '+m+' class',{style:{fontSize:10.5, align:'center'}});
  R(732,y0+8,23,10,MATCH_COLOR,'#555',0.8); T(760,y0+13,'Matched',{style:{fontSize:10.5}});
  R(732,y0+21,23,10,MISMATCH_COLORS[m],'#555',0.8); T(760,y0+26,'Mismatched',{style:{fontSize:10.5}});
});

// panel letters
T(2,9,'a',{style:{fontSize:19, fontWeight:'bold', fill:'#000'}});
T(400,7,'b',{style:{fontSize:19, fontWeight:'bold', fill:'#000'}});
T(401,209,'c',{style:{fontSize:19, fontWeight:'bold', fill:'#000'}});
T(1,397,'d',{style:{fontSize:19, fontWeight:'bold', fill:'#000'}});
T(15,925,'e',{style:{fontSize:19, fontWeight:'bold', fill:'#000'}});

const chart = echarts.init(document.getElementById('c'));
chart.setOption({animation:false, backgroundColor:'#fff', textStyle:{fontFamily:FONT},
  grid:grids, xAxis:xAxes, yAxis:yAxes, series, graphic:graphics});
</script></body></html>
